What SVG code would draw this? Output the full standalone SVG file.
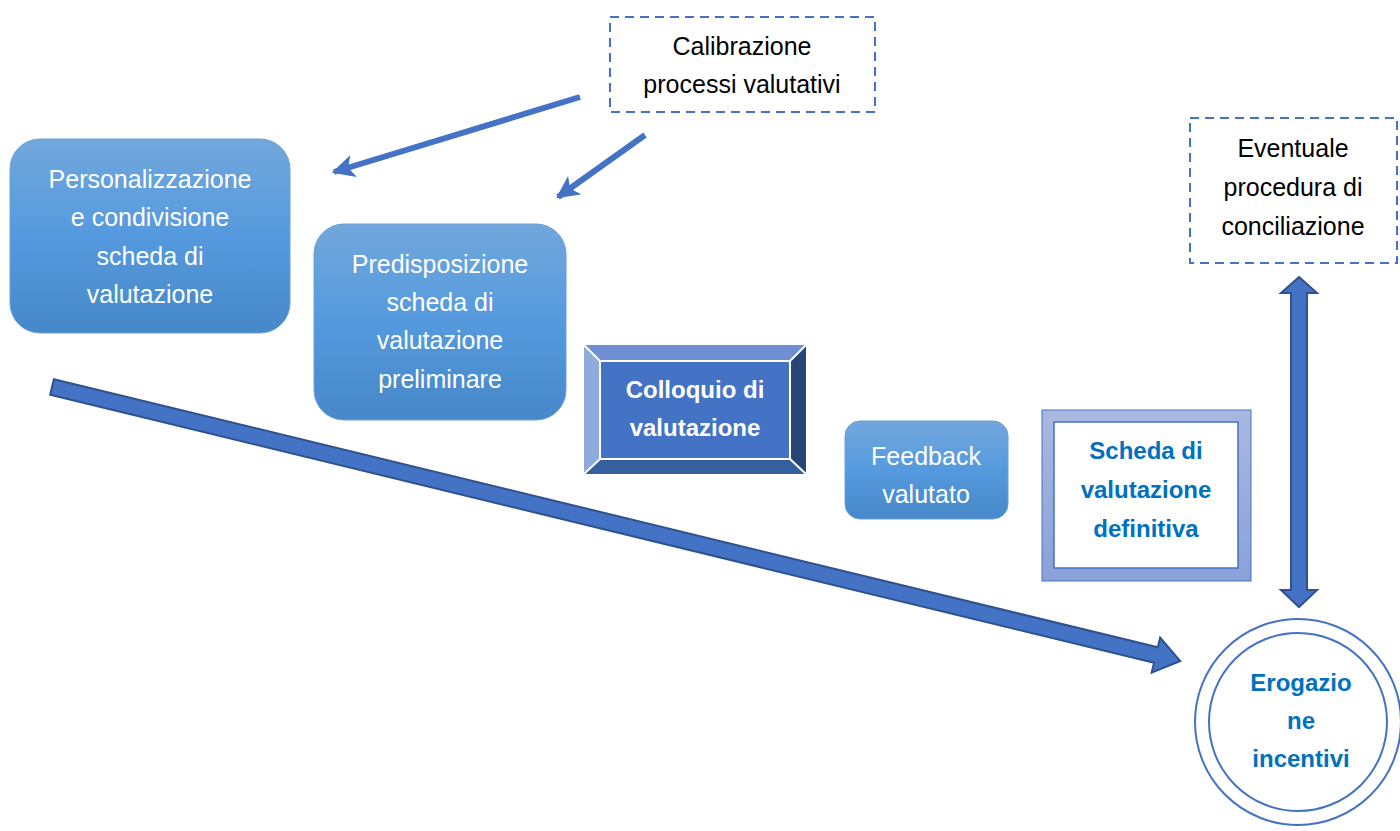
<svg xmlns="http://www.w3.org/2000/svg" width="1400" height="831" viewBox="0 0 1400 831">
<defs>
<linearGradient id="gBlue" x1="0" y1="0" x2="0" y2="1">
<stop offset="0" stop-color="#72a7dc"/>
<stop offset="0.5" stop-color="#559ade"/>
<stop offset="1" stop-color="#4688c8"/>
</linearGradient>
<linearGradient id="gFrame" x1="0" y1="0" x2="0" y2="1">
<stop offset="0" stop-color="#a9b8e0"/>
<stop offset="1" stop-color="#8aa1d8"/>
</linearGradient>
<marker id="thinHead" viewBox="0 0 10 10" refX="9" refY="5" markerWidth="3.8" markerHeight="3.8" orient="auto" markerUnits="strokeWidth">
<path d="M0,0 L10,5 L0,10 L2.5,5 Z" fill="#4472c4"/>
</marker>
<style>
.t{font-family:"Liberation Sans",Arial,sans-serif;font-size:25px;text-anchor:middle}
.w{fill:#ffffff}
.k{fill:#000000}
.b{font-weight:bold;font-size:24px}
.blue{fill:#0070c0}
.grad{fill:url(#gBlue);stroke:#6aa0d8;stroke-width:1}
.dash{fill:#ffffff;stroke:#4472c4;stroke-width:2;stroke-dasharray:9 6}
.thick{fill:#4472c4;stroke:#2f528f;stroke-width:2;stroke-linejoin:miter}
.thin{fill:none;stroke:#4472c4;stroke-width:6;marker-end:url(#thinHead)}
</style>
</defs>
<rect width="1400" height="831" fill="#ffffff"/>

<g id="connectors">
<line class="thin" x1="580" y1="97" x2="334" y2="172"/>
<line class="thin" x1="645" y1="135" x2="558" y2="197"/>
<polygon class="thick" transform="translate(52,387) rotate(13.65)" points="0,-8 1136,-8 1136,-18 1161,0 1136,18 1136,8 0,8"/>
<polygon class="thick" points="1299,277 1317,293 1307,293 1307,590 1317,590 1299,607 1281,590 1291,590 1291,293 1281,293"/>
</g>

<g id="calibrazione">
<rect class="dash" x="610" y="17" width="265" height="95"/>
<text class="t k" x="742" y="55">Calibrazione</text>
<text class="t k" x="742" y="93">processi valutativi</text>
</g>

<g id="eventuale">
<rect class="dash" x="1190" y="118" width="207" height="145"/>
<text class="t k" x="1293" y="157">Eventuale</text>
<text class="t k" x="1293" y="196">procedura di</text>
<text class="t k" x="1293" y="235">conciliazione</text>
</g>

<g id="personalizzazione">
<rect class="grad" x="10" y="139" width="280" height="194" rx="30"/>
<text class="t w" x="150" y="188">Personalizzazione</text>
<text class="t w" x="150" y="226">e condivisione</text>
<text class="t w" x="150" y="265">scheda di</text>
<text class="t w" x="150" y="303">valutazione</text>
</g>

<g id="predisposizione">
<rect class="grad" x="314" y="224" width="252" height="196" rx="30"/>
<text class="t w" x="440" y="273">Predisposizione</text>
<text class="t w" x="440" y="311">scheda di</text>
<text class="t w" x="440" y="349">valutazione</text>
<text class="t w" x="440" y="388">preliminare</text>
</g>

<g id="colloquio">
<polygon points="584,345 806,345 790,361 600,361" fill="#6f8fd2"/>
<polygon points="584,345 600,361 600,459 584,474" fill="#8faadc"/>
<polygon points="806,345 806,474 790,459 790,361" fill="#284578"/>
<polygon points="584,474 600,459 790,459 806,474" fill="#365f9f"/>
<rect x="600" y="361" width="190" height="98" fill="#4472c4" stroke="#ffffff" stroke-width="2"/>
<g stroke="#ffffff" stroke-width="2">
<line x1="584" y1="345" x2="600" y2="361"/>
<line x1="806" y1="345" x2="790" y2="361"/>
<line x1="584" y1="474" x2="600" y2="459"/>
<line x1="806" y1="474" x2="790" y2="459"/>
</g>
<text class="t w b" x="695" y="398">Colloquio di</text>
<text class="t w b" x="695" y="436">valutazione</text>
</g>

<g id="feedback">
<rect class="grad" x="845" y="421" width="163" height="98" rx="15"/>
<text class="t w" x="926" y="465">Feedback</text>
<text class="t w" x="926" y="503">valutato</text>
</g>

<g id="scheda">
<rect x="1042" y="410" width="209" height="171" fill="url(#gFrame)" stroke="#4472c4" stroke-width="1"/>
<rect x="1054" y="422" width="184" height="146" fill="#ffffff" stroke="#4472c4" stroke-width="1.5"/>
<text class="t blue b" x="1146" y="459">Scheda di</text>
<text class="t blue b" x="1146" y="498">valutazione</text>
<text class="t blue b" x="1146" y="537">definitiva</text>
</g>

<g id="erogazione">
<circle cx="1298" cy="722" r="103" fill="#ffffff" stroke="#4472c4" stroke-width="2"/>
<circle cx="1298" cy="722" r="89" fill="none" stroke="#4472c4" stroke-width="2"/>
<text class="t blue b" x="1301" y="691">Erogazio</text>
<text class="t blue b" x="1301" y="729">ne</text>
<text class="t blue b" x="1301" y="767">incentivi</text>
</g>
</svg>
